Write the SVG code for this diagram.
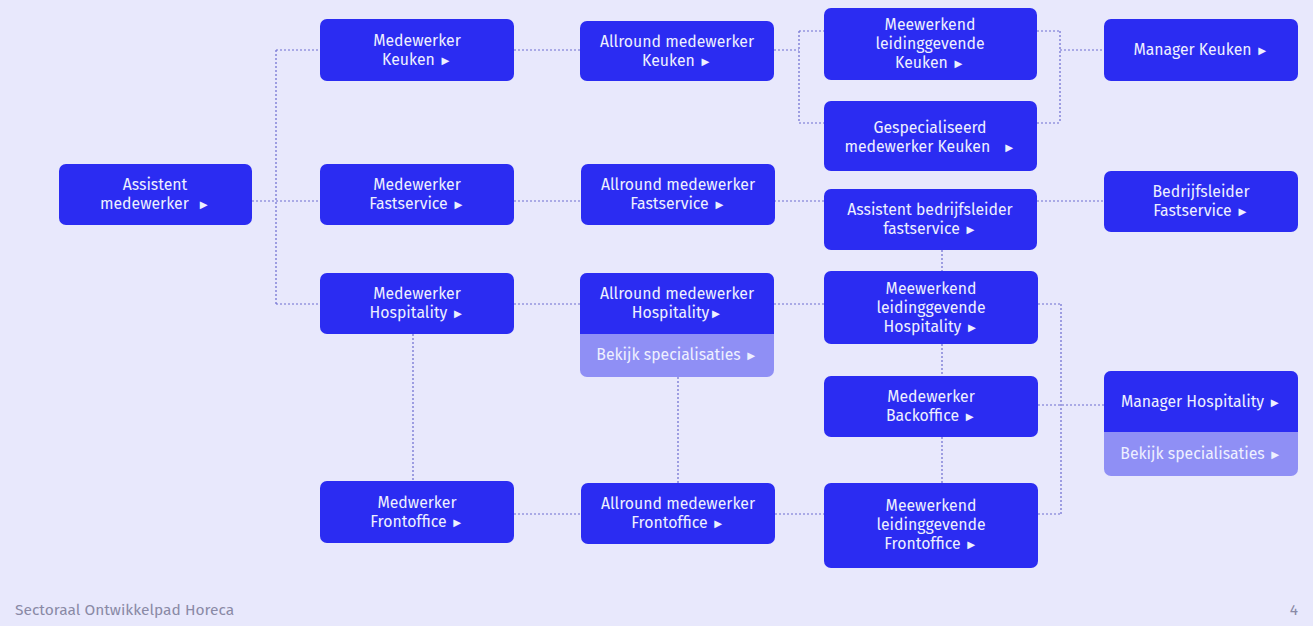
<svg xmlns="http://www.w3.org/2000/svg" width="1313" height="626" viewBox="0 0 1313 626">
<style>
.n{fill:#2b2cf2}
.l{fill:#8f8ff5}
.t{font-family:"Fira Sans",Roboto,"Liberation Sans",sans-serif;font-size:15.8px;fill:#eef0ff;text-anchor:middle}
.a{font-size:13px}
.c{fill:none;stroke:#6c6cd0;stroke-width:1.2;stroke-dasharray:2 2}
.f{font-family:"Fira Sans",Roboto,"Liberation Sans",sans-serif;font-size:15.5px;fill:#8a8aa6}
</style>
<rect width="1313" height="626" fill="#e8e8fc"/>
<g id="connectors">
<path class="c" d="M252 201H320M276 50V304M276 50H320M276 304H320"/>
<path class="c" d="M514 50H580M514 201H581M514 304H580M514 514H581"/>
<path class="c" d="M413 334V481M678 377V483"/>
<path class="c" d="M774 50H799M799 31V123M799 31H824M799 123H824"/>
<path class="c" d="M1037 31H1060M1037 123H1060M1060 31V123M1060 50H1104"/>
<path class="c" d="M774 201H824M1037 201H1104"/>
<path class="c" d="M942 250V271M942 344V376M942 437V483"/>
<path class="c" d="M774 304H824M775 514H824"/>
<path class="c" d="M1038 304H1061M1061 304V514M1038 514H1061M1038 405H1104"/>
</g>
<g id="assistent-medewerker"><rect class="n" x="59" y="164" width="193" height="61" rx="7"/><text class="t" x="155" y="190">Assistent</text><text class="t" x="155" y="209" xml:space="preserve">medewerker  <tspan class="a">►</tspan></text></g>
<g id="medewerker-keuken"><rect class="n" x="320" y="19" width="194" height="62" rx="7"/><text class="t" x="417" y="46">Medewerker</text><text class="t" x="417" y="65">Keuken <tspan class="a">►</tspan></text></g>
<g id="medewerker-fastservice"><rect class="n" x="320" y="164" width="194" height="61" rx="7"/><text class="t" x="417" y="190">Medewerker</text><text class="t" x="417" y="209">Fastservice <tspan class="a">►</tspan></text></g>
<g id="medewerker-hospitality"><rect class="n" x="320" y="273" width="194" height="61" rx="7"/><text class="t" x="417" y="299">Medewerker</text><text class="t" x="417" y="318">Hospitality <tspan class="a">►</tspan></text></g>
<g id="medwerker-frontoffice"><rect class="n" x="320" y="481" width="194" height="62" rx="7"/><text class="t" x="417" y="508">Medwerker</text><text class="t" x="417" y="527">Frontoffice <tspan class="a">►</tspan></text></g>
<g id="allround-keuken"><rect class="n" x="580" y="21" width="194" height="60" rx="7"/><text class="t" x="677" y="47">Allround medewerker</text><text class="t" x="677" y="66">Keuken <tspan class="a">►</tspan></text></g>
<g id="allround-fastservice"><rect class="n" x="581" y="164" width="194" height="61" rx="7"/><text class="t" x="678" y="190">Allround medewerker</text><text class="t" x="678" y="209">Fastservice <tspan class="a">►</tspan></text></g>
<g id="allround-hospitality"><rect class="l" x="580" y="273" width="194" height="104" rx="7"/><path class="n" d="M587 273H767A7 7 0 0 1 774 280V334H580V280A7 7 0 0 1 587 273Z"/><text class="t" x="677" y="299">Allround medewerker</text><text class="t" x="677" y="318">Hospitality<tspan class="a">►</tspan></text><text class="t" x="677" y="360">Bekijk specialisaties <tspan class="a">►</tspan></text></g>
<g id="allround-frontoffice"><rect class="n" x="581" y="483" width="194" height="61" rx="7"/><text class="t" x="678" y="509">Allround medewerker</text><text class="t" x="678" y="528">Frontoffice <tspan class="a">►</tspan></text></g>
<g id="meewerkend-keuken"><rect class="n" x="824" y="8" width="213" height="72" rx="7"/><text class="t" x="930" y="30">Meewerkend</text><text class="t" x="930" y="49">leidinggevende</text><text class="t" x="930" y="68">Keuken <tspan class="a">►</tspan></text></g>
<g id="gespecialiseerd-keuken"><rect class="n" x="824" y="101" width="213" height="70" rx="7"/><text class="t" x="930" y="133">Gespecialiseerd</text><text class="t" x="930" y="152" xml:space="preserve">medewerker Keuken   <tspan class="a">►</tspan></text></g>
<g id="assistent-bedrijfsleider"><rect class="n" x="824" y="189" width="213" height="61" rx="7"/><text class="t" x="930" y="215">Assistent bedrijfsleider</text><text class="t" x="930" y="234">fastservice <tspan class="a">►</tspan></text></g>
<g id="meewerkend-hospitality"><rect class="n" x="824" y="271" width="214" height="73" rx="7"/><text class="t" x="931" y="294">Meewerkend</text><text class="t" x="931" y="313">leidinggevende</text><text class="t" x="931" y="332">Hospitality <tspan class="a">►</tspan></text></g>
<g id="medewerker-backoffice"><rect class="n" x="824" y="376" width="214" height="61" rx="7"/><text class="t" x="931" y="402">Medewerker</text><text class="t" x="931" y="421">Backoffice <tspan class="a">►</tspan></text></g>
<g id="meewerkend-frontoffice"><rect class="n" x="824" y="483" width="214" height="85" rx="7"/><text class="t" x="931" y="511">Meewerkend</text><text class="t" x="931" y="530">leidinggevende</text><text class="t" x="931" y="549">Frontoffice <tspan class="a">►</tspan></text></g>
<g id="manager-keuken"><rect class="n" x="1104" y="19" width="194" height="62" rx="7"/><text class="t" x="1201" y="55">Manager Keuken <tspan class="a">►</tspan></text></g>
<g id="bedrijfsleider-fastservice"><rect class="n" x="1104" y="171" width="194" height="61" rx="7"/><text class="t" x="1201" y="197">Bedrijfsleider</text><text class="t" x="1201" y="216">Fastservice <tspan class="a">►</tspan></text></g>
<g id="manager-hospitality"><rect class="l" x="1104" y="371" width="194" height="105" rx="7"/><path class="n" d="M1111 371H1291A7 7 0 0 1 1298 378V432H1104V378A7 7 0 0 1 1111 371Z"/><text class="t" x="1201" y="407">Manager Hospitality <tspan class="a">►</tspan></text><text class="t" x="1201" y="459">Bekijk specialisaties <tspan class="a">►</tspan></text></g>
<g id="footer"><text class="f" x="15" y="615">Sectoraal Ontwikkelpad Horeca</text><text class="f" x="1298" y="615" text-anchor="end">4</text></g>
</svg>
